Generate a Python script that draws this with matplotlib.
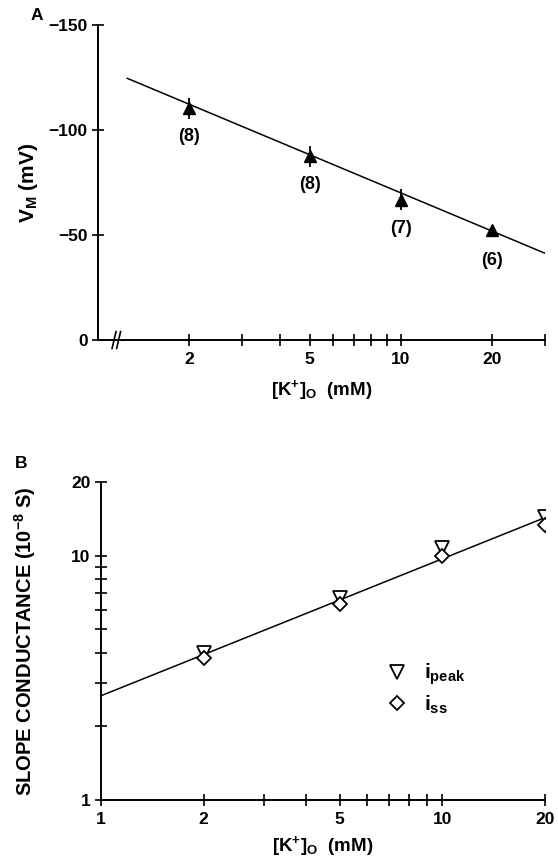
import matplotlib
matplotlib.use("Agg")
import matplotlib.pyplot as plt
from matplotlib.ticker import FixedLocator, NullFormatter, FixedFormatter
import numpy as np

# ---- Panel A data ----
k_a = [2, 5, 10, 20]
vm = [-110.3, -87.6, -66.7, -52.4]
vm_err = [5, 5, 5, 1.5]
n_labels = ["(8)", "(8)", "(7)", "(6)"]
n_label_y = [-97, -74, -53, -38]
fitA_x = [1.25, 30]
fitA_y = [-124.6, -41.3]

# ---- Panel B data ----
k_b = [2, 5, 10, 20]
g_peak = [3.99, 6.7, 10.75, 14.4]
g_ss = [3.8, 6.34, 10.0, 13.3]
fitB_x = [1, 20]
fitB_y = [2.67, 14.3]

plt.rcParams['font.family'] = ['Liberation Sans', 'DejaVu Sans']
plt.rcParams['font.weight'] = 'bold'
plt.rcParams['mathtext.fontset'] = 'custom'
plt.rcParams['mathtext.rm'] = 'Liberation Sans:bold'
plt.rcParams['mathtext.it'] = 'Liberation Sans:bold'
plt.rcParams['mathtext.bf'] = 'Liberation Sans:bold'

fig = plt.figure(figsize=(5.58, 8.61), dpi=100)
W, H = 558, 861

def axes_px(l, r, t, b):
    return fig.add_axes([l / W, 1 - b / H, (r - l) / W, (b - t) / H])

fs = 12.5

# ---------------- Panel A ----------------
axA = axes_px(98, 545, 25, 340)
axA.set_xscale('log')
axA.set_xlim(1, 30)
axA.set_ylim(0, -150)
for s in ['top', 'right']:
    axA.spines[s].set_visible(False)
for s in ['left', 'bottom']:
    axA.spines[s].set_linewidth(1.4)

axA.plot(fitA_x, fitA_y, color='black', lw=1.1)
axA.errorbar(k_a, vm, yerr=vm_err, fmt='^', color='black', ms=9, elinewidth=1.3,
             capsize=0)
for x, lab, y in zip(k_a, n_labels, n_label_y):
    axA.text(x, y, lab, ha='center', va='center', fontsize=13, fontweight='bold')

axA.xaxis.set_major_locator(FixedLocator([2, 5, 10, 20]))
axA.xaxis.set_major_formatter(FixedFormatter(['2', '5', '10', '20']))
axA.xaxis.set_minor_locator(FixedLocator([3, 4, 6, 7, 8, 9, 30]))
axA.xaxis.set_minor_formatter(NullFormatter())
axA.set_yticks([0, -50, -100, -150])
axA.set_yticklabels(['0', '\u221250', '\u2212100', '\u2212150'])
axA.tick_params(which='both', direction='inout', length=9, width=1.2, labelsize=fs)
axA.tick_params(axis='x', pad=4)
axA.tick_params(axis='y', pad=3)
axA.set_xlabel('[K$^{+}$]$_{\\mathregular{O}}$  (mM)', fontsize=13.5, fontweight='bold', labelpad=8)
axA.set_ylabel('V$_{\\mathregular{M}}$ (mV)', fontsize=15, fontweight='bold', labelpad=6)

# axis break marks
for dx in (1.13, 1.17):
    axA.plot([dx * 0.985, dx * 1.015], [4, -4], color='black', lw=1.2, clip_on=False)

fig.text(37 / W, 1 - 15 / H, 'A', fontsize=fs, fontweight='bold', ha='center', va='center')

# ---------------- Panel B ----------------
axB = axes_px(101, 545, 482, 800)
axB.set_xscale('log')
axB.set_yscale('log')
axB.set_xlim(1, 20)
axB.set_ylim(1, 20)
for s in ['top', 'right']:
    axB.spines[s].set_visible(False)
for s in ['left', 'bottom']:
    axB.spines[s].set_linewidth(1.4)

axB.plot(fitB_x, fitB_y, color='black', lw=1.1)
axB.plot(k_b, g_peak, 'v', mfc='white', mec='black', ms=10, mew=1.3, label='i$_{\\mathregular{peak}}$')
axB.plot(k_b, g_ss, 'D', mfc='white', mec='black', ms=7.5, mew=1.3, label='i$_{\\mathregular{ss}}$')

axB.xaxis.set_major_locator(FixedLocator([1, 2, 5, 10, 20]))
axB.xaxis.set_major_formatter(FixedFormatter(['1', '2', '5', '10', '20']))
axB.xaxis.set_minor_locator(FixedLocator([3, 4, 6, 7, 8, 9]))
axB.xaxis.set_minor_formatter(NullFormatter())
axB.yaxis.set_major_locator(FixedLocator([1, 10, 20]))
axB.yaxis.set_major_formatter(FixedFormatter(['1', '10', '20']))
axB.yaxis.set_minor_locator(FixedLocator([2, 3, 4, 5, 6, 7, 8, 9]))
axB.yaxis.set_minor_formatter(NullFormatter())
axB.tick_params(which='both', direction='inout', length=9, width=1.2, labelsize=fs)
axB.tick_params(axis='x', pad=4)
axB.tick_params(axis='y', pad=3)
axB.set_xlabel('[K$^{+}$]$_{\\mathregular{O}}$  (mM)', fontsize=13.5, fontweight='bold', labelpad=5)
axB.set_ylabel('SLOPE CONDUCTANCE (10$^{-8}$ S)', fontsize=14.5, fontweight='bold', labelpad=24)

leg = axB.legend(loc='center', bbox_to_anchor=(0.72, 0.35), frameon=False,
                 fontsize=15, handletextpad=0.3, labelspacing=0.3)

fig.text(21 / W, 1 - 463 / H, 'B', fontsize=fs, fontweight='bold', ha='center', va='center')

fig.savefig('out.png', dpi=100)
